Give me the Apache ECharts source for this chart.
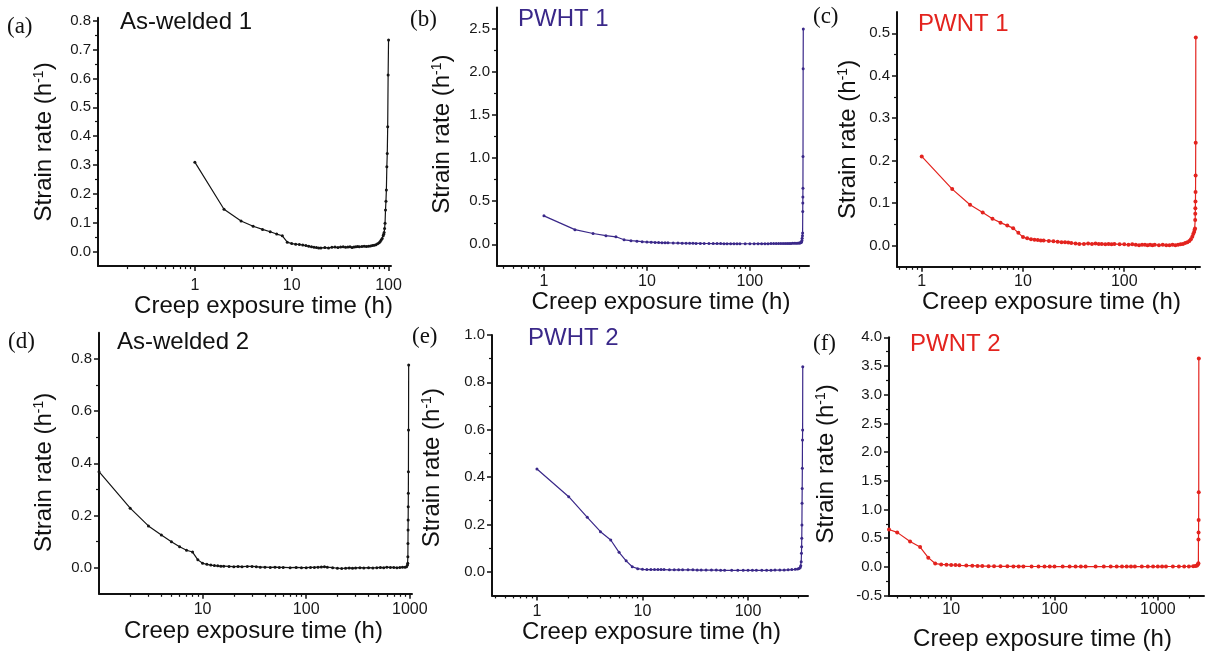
<!DOCTYPE html>
<html>
<head>
<meta charset="utf-8">
<script src="https://cdn.jsdelivr.net/npm/echarts@6/dist/echarts.min.js"></script>
<style>
html,body{margin:0;padding:0;background:#fff;}
#chart{width:1207px;height:652px;}
</style>
</head>
<body>
<div id="chart"></div>
<script>
// ---------------- data (time h, strain rate 1/h) ----------------
const asWelded1 = [[1,0.31],[2,0.147],[3,0.106],[4,0.088],[5,0.077],[6,0.069],[7,0.061],[8,0.055],[9,0.033],[10,0.028],
 [11,0.026],[12,0.025],[13,0.023],[14,0.021],[15,0.019],[16,0.017],[17,0.015],[18,0.014],[19,0.013],[20,0.013],
 [22,0.014],[24,0.013],[26,0.015],[28,0.016],[30,0.014],[32,0.016],[34,0.017],[36,0.015],[38,0.016],[40,0.017],
 [42,0.014],[44,0.016],[46,0.017],[48,0.018],[50,0.017],[53,0.018],[56,0.019],[59,0.018],[62,0.019],[65,0.02],
 [68,0.021],[71,0.022],[74,0.024],[77,0.027],[80,0.031],[82,0.035],[84,0.04],[86,0.046],[88,0.055],[89,0.06],
 [90,0.066],[91,0.08],[92,0.098],[93,0.144],[94,0.175],[95,0.214],[96,0.294],[97,0.34],[98,0.433],[99,0.612],[100,0.733]];

const pwht1 = [[1,0.33],[2,0.17],[3,0.125],[4,0.1],[5,0.087],[6,0.052],[7,0.042],[8,0.036],[9,0.03],[10,0.026],
 [11,0.024],[12,0.022],[13,0.02],[14,0.019],[15,0.018],[16,0.017],[18,0.015],[20,0.014],[22,0.013],[24,0.012],
 [26,0.012],[28,0.011],[30,0.01],[33,0.01],[36,0.009],[40,0.009],[44,0.008],[48,0.008],[52,0.008],[56,0.007],
 [60,0.007],[65,0.007],[70,0.007],[75,0.006],[80,0.006],[90,0.006],[100,0.006],[110,0.006],[120,0.007],[130,0.007],
 [140,0.007],[150,0.007],[160,0.008],[170,0.008],[180,0.008],[190,0.008],[200,0.009],[210,0.009],[220,0.009],[230,0.01],
 [240,0.01],[250,0.01],[260,0.011],[270,0.011],[280,0.012],[290,0.013],[300,0.014],[305,0.016],[310,0.018],[315,0.022],
 [318,0.03],[320,0.045],[322,0.07],[324,0.1],[325,0.13],[326,0.38],[326.5,0.48],[327,0.55],[327.5,0.65],[328,1.02],
 [329,2.04],[330,2.5]];

const pwnt1 = [[1,0.21],[2,0.133],[3,0.096],[4,0.078],[5,0.063],[6,0.054],[7,0.047],[8,0.041],[9,0.03],[10,0.02],
 [11,0.017],[12,0.015],[13,0.014],[14,0.013],[15,0.012],[16,0.012],[18,0.011],[20,0.01],[22,0.009],[24,0.008],
 [26,0.008],[28,0.007],[30,0.006],[33,0.005],[36,0.004],[40,0.004],[44,0.005],[48,0.004],[52,0.005],[56,0.004],
 [60,0.004],[65,0.003],[70,0.004],[75,0.003],[80,0.004],[90,0.003],[100,0.003],[110,0.002],[120,0.003],[130,0.002],
 [140,0.001],[150,0.002],[160,0.002],[170,0.001],[180,0.002],[190,0.001],[200,0.002],[220,0.001],[240,0.002],[260,0.001],
 [280,0.001],[300,0.002],[320,0.001],[340,0.002],[360,0.003],[380,0.004],[400,0.006],[420,0.008],[440,0.011],[455,0.015],
 [470,0.021],[480,0.027],[490,0.032],[495,0.037],[500,0.04],[502,0.06],[503,0.075],[504,0.088],[505,0.104],[506,0.126],
 [507,0.165],[508,0.2425],[509,0.49]];

const asWelded2 = [[1,0.368],[2,0.228],[3,0.16],[4,0.125],[5,0.099],[6,0.08],[7,0.067],[8,0.06],[9,0.03],[10,0.017],
 [11,0.013],[12,0.01],[13,0.008],[14,0.007],[15,0.006],[16,0.006],[18,0.005],[20,0.004],[22,0.005],[24,0.004],
 [27,0.005],[30,0.005],[33,0.004],[36,0.002],[40,0.002],[45,0.001],[50,0.002],[55,0.001],[60,0.001],[70,0.0],
 [80,0.001],[90,0.0],[100,0.0],[110,0.001],[120,0.001],[130,0.002],[140,0.003],[150,0.004],[160,0.002],[180,0.0],
 [200,-0.002],[220,-0.003],[240,-0.002],[260,-0.001],[280,-0.002],[300,-0.001],[330,0.0],[360,-0.001],[400,0.0],[440,-0.001],
 [480,0.0],[520,0.001],[560,0.0],[600,0.002],[650,0.001],[700,0.001],[750,0.0],[800,0.001],[850,0.002],[900,0.002],
 [930,0.004],[950,0.01],[955,0.017],[958,0.042],[960,0.093],[962,0.144],[964,0.183],[966,0.234],[968,0.285],[970,0.368],
 [972,0.528],[975,0.777]];

const pwht2 = [[1,0.434],[2,0.317],[3,0.23],[4,0.169],[5,0.134],[6,0.082],[7,0.046],[8,0.021],[9,0.013],[10,0.01],
 [11,0.009],[12,0.009],[13,0.009],[14,0.009],[15,0.009],[16,0.009],[18,0.008],[20,0.008],[22,0.008],[24,0.008],
 [27,0.008],[30,0.008],[33,0.007],[36,0.007],[40,0.007],[45,0.007],[50,0.007],[55,0.006],[60,0.006],[70,0.006],
 [80,0.006],[90,0.006],[100,0.006],[110,0.006],[120,0.006],[135,0.006],[150,0.006],[165,0.006],[180,0.007],[200,0.007],
 [220,0.007],[240,0.008],[260,0.009],[280,0.01],[295,0.012],[305,0.014],[312,0.018],[316,0.025],[319,0.042],[321,0.078],
 [322,0.106],[323,0.141],[324,0.197],[325,0.289],[326,0.352],[327,0.437],[328,0.556],[329,0.599],[330,0.866]];

const pwnt2 = [[2.5,0.65],[3,0.6],[4,0.44],[5,0.345],[6,0.16],[7,0.057],[8,0.042],[9,0.037],[10,0.033],[11,0.03],
 [12,0.026],[14,0.022],[16,0.019],[18,0.016],[20,0.013],[23,0.011],[26,0.01],[30,0.009],[35,0.008],[40,0.007],
 [45,0.006],[50,0.006],[60,0.005],[70,0.005],[80,0.004],[90,0.004],[100,0.004],[120,0.004],[140,0.004],[160,0.004],
 [180,0.004],[200,0.004],[250,0.004],[300,0.004],[350,0.004],[400,0.004],[450,0.004],[500,0.004],[550,0.004],[600,0.004],
 [700,0.004],[800,0.004],[900,0.004],[1000,0.004],[1100,0.004],[1200,0.005],[1400,0.005],[1600,0.005],[1800,0.005],[2000,0.006],
 [2200,0.008],[2300,0.012],[2380,0.02],[2420,0.03],[2450,0.045],[2470,0.06],[2475,0.476],[2480,0.6],[2485,0.815],[2490,1.3],
 [2495,3.63]];

// ---------------- tick labels ----------------
const xLabels1 = [1, 10, 100];
const xLabels2 = [10, 100, 1000];
const yTicksA = [0, 0.1, 0.2, 0.3, 0.4, 0.5, 0.6, 0.7, 0.8];
const yMinorA = [0.05, 0.15, 0.25, 0.35, 0.45, 0.55, 0.65, 0.75];
const yTicksB = [0, 0.5, 1.0, 1.5, 2.0, 2.5];
const yMinorB = [0.25, 0.75, 1.25, 1.75, 2.25];
const yTicksC = [0, 0.1, 0.2, 0.3, 0.4, 0.5];
const yMinorC = [0.05, 0.15, 0.25, 0.35, 0.45];
const yTicksD = [0, 0.2, 0.4, 0.6, 0.8];
const yMinorD = [0.1, 0.3, 0.5, 0.7];
const yTicksE = [0, 0.2, 0.4, 0.6, 0.8, 1.0];
const yMinorE = [0.1, 0.3, 0.5, 0.7, 0.9];
const yTicksF = [-0.5, 0, 0.5, 1.0, 1.5, 2.0, 2.5, 3.0, 3.5, 4.0];
const yMinorF = [-0.25, 0.25, 0.75, 1.25, 1.75, 2.25, 2.75, 3.25, 3.75];
const titles = ['As-welded 1', 'PWHT 1', 'PWNT 1', 'As-welded 2', 'PWHT 2', 'PWNT 2'];
const letters = ['(a)', '(b)', '(c)', '(d)', '(e)', '(f)'];

// minor log ticks (2..9 x 10^k) inside an axis range
function logMinor(min, max) {
  const out = [];
  for (let e = -2; e <= 4; e++) {
    for (let m = 2; m <= 9; m++) {
      const v = +(m * Math.pow(10, e)).toPrecision(3);
      if (v > min && v < max) out.push(v);
    }
  }
  return out;
}

const SANS = '"Liberation Sans", Arial, Helvetica, sans-serif';
const SERIF = '"Liberation Serif", "Times New Roman", serif';
const BLACK = '#141414', BLUE = '#3a2889', RED = '#e3231e';

const panels = [
  {data: asWelded1, color: BLACK, grid: {left: 98, top: 17.8, width: 293, height: 248.3},
   xMin: 0.1, xMax: 106, xLab: xLabels1, yMin: -0.05, yMax: 0.81, yT: yTicksA, yM: yMinorA,
   xGap: 22, xPad: [0, 0, 0, 38], xMargin: 11, yGap: 41.5, yPad: [0, 0, 0, 0],
   title: {left: 120, top: 10}, letter: {left: 7, top: 15}, tColor: '#111'},
  {data: pwht1, color: BLUE, grid: {left: 497, top: 7.5, width: 312, height: 258.3},
   xMin: 0.35, xMax: 375, xLab: xLabels1, yMin: -0.25, yMax: 2.75, yT: yTicksB, yM: yMinorB,
   xGap: 21.5, xPad: [0, 0, 0, 16], xMargin: 8, yGap: 42.5, yPad: [0, 0, 0, 5],
   title: {left: 518, top: 7}, letter: {left: 410, top: 8.5}, tColor: BLUE},
  {data: pwnt1, color: RED, grid: {left: 897, top: 12.1, width: 303, height: 254.7},
   xMin: 0.57, xMax: 560, xLab: xLabels1, yMin: -0.05, yMax: 0.55, yT: yTicksC, yM: yMinorC,
   xGap: 21, xPad: [0, 0, 0, 6], xMargin: 7, yGap: 37, yPad: [0, 0, 0, 0],
   title: {left: 918, top: 12}, letter: {left: 813, top: 5}, tColor: RED},
  {data: asWelded2, color: BLACK, grid: {left: 99, top: 332.8, width: 313, height: 261},
   xMin: 1, xMax: 1050, xLab: xLabels2, yMin: -0.1, yMax: 0.9, yT: yTicksD, yM: yMinorD,
   xGap: 25.5, xPad: [0, 4, 0, 0], xMargin: 8, yGap: 43, yPad: [0, 18, 0, 0],
   title: {left: 117, top: 330.5}, letter: {left: 8, top: 330.5}, tColor: '#111'},
  {data: pwht2, color: BLUE, grid: {left: 492, top: 335, width: 316, height: 260.4},
   xMin: 0.375, xMax: 370, xLab: xLabels1, yMin: -0.1, yMax: 1.0, yT: yTicksE, yM: yMinorE,
   xGap: 23, xPad: [0, 0, 0, 3], xMargin: 8, yGap: 48, yPad: [0, 5, 0, 0],
   title: {left: 528, top: 326}, letter: {left: 412, top: 325.5}, tColor: BLUE},
  {data: pwnt2, color: RED, grid: {left: 889, top: 337.3, width: 315, height: 261},
   xMin: 2.5, xMax: 2800, xLab: xLabels2, yMin: -0.5, yMax: 4.0, yT: yTicksF, yM: yMinorF,
   xGap: 31.5, xPad: [0, 8, 0, 0], xMargin: 6, yGap: 51, yPad: [0, 0, 0, 5],
   title: {left: 910, top: 332}, letter: {left: 813, top: 332.5}, tColor: RED}
];

const grid = [], xAxis = [], yAxis = [], series = [], title = [];
panels.forEach((p, i) => {
  grid.push(Object.assign({containLabel: false}, p.grid));
  // major x axis (log)
  xAxis.push({
    type: 'log', logBase: 10, gridIndex: i, min: p.xMin, max: p.xMax, position: 'bottom',
    name: 'Creep exposure time (h)', nameLocation: 'middle', nameGap: p.xGap,
    nameTextStyle: {fontFamily: SANS, fontSize: 24, color: '#111', padding: p.xPad},
    axisLine: {show: true, onZero: false, lineStyle: {color: '#111', width: 2}},
    axisTick: {show: true, inside: false, length: 5, customValues: p.xLab, lineStyle: {color: '#111', width: 1.5}},
    axisLabel: {show: true, customValues: p.xLab, margin: p.xMargin, fontFamily: SANS, fontSize: 16, color: '#181818',
      formatter: v => String(Math.round(v))},
    splitLine: {show: false}, minorTick: {show: false}, minorSplitLine: {show: false}
  });
  // minor x ticks
  xAxis.push({
    type: 'log', logBase: 10, gridIndex: i, min: p.xMin, max: p.xMax, position: 'bottom',
    axisLine: {show: false, onZero: false},
    axisTick: {show: true, inside: false, length: 3, customValues: logMinor(p.xMin, p.xMax), lineStyle: {color: '#111', width: 1.2}},
    axisLabel: {show: false}, splitLine: {show: false}
  });
  // major y axis
  yAxis.push({
    type: 'value', gridIndex: i, min: p.yMin, max: p.yMax, position: 'left',
    name: 'Strain rate (h{sup|-1})', nameLocation: 'middle', nameGap: p.yGap, nameRotate: 90,
    nameTextStyle: {fontFamily: SANS, fontSize: 24, color: '#111', padding: p.yPad,
      rich: {sup: {fontFamily: SANS, fontSize: 14, color: '#111', verticalAlign: 'top', lineHeight: 24}}},
    axisLine: {show: true, onZero: false, lineStyle: {color: '#111', width: 2}},
    axisTick: {show: true, inside: false, length: 5, customValues: p.yT, lineStyle: {color: '#111', width: 1.5}},
    axisLabel: {show: true, customValues: p.yT, margin: 7, fontFamily: SANS, fontSize: 15, color: '#181818',
      formatter: v => v.toFixed(1)},
    splitLine: {show: false}
  });
  // minor y ticks
  yAxis.push({
    type: 'value', gridIndex: i, min: p.yMin, max: p.yMax, position: 'left',
    axisLine: {show: false, onZero: false},
    axisTick: {show: true, inside: false, length: 3, customValues: p.yM, lineStyle: {color: '#111', width: 1.2}},
    axisLabel: {show: false}, splitLine: {show: false}
  });
  series.push({
    type: 'line', xAxisIndex: 2 * i, yAxisIndex: 2 * i, data: p.data,
    symbol: 'circle', symbolSize: p.color === RED ? 4 : 3, showSymbol: true,
    lineStyle: {color: p.color, width: 1.2}, itemStyle: {color: p.color},
    clip: true, silent: true
  });
  title.push({text: titles[i], left: p.title.left, top: p.title.top, padding: 0,
    textStyle: {fontFamily: SANS, fontSize: 24, fontWeight: 'normal', color: p.tColor}});
  title.push({text: letters[i], left: p.letter.left, top: p.letter.top, padding: 0,
    textStyle: {fontFamily: SERIF, fontSize: 23, fontWeight: 'normal', color: '#111'}});
});

const chart = echarts.init(document.getElementById('chart'), null, {renderer: 'canvas'});
chart.setOption({
  backgroundColor: '#fff',
  animation: false,
  title, grid, xAxis, yAxis, series
});
</script>
</body>
</html>
